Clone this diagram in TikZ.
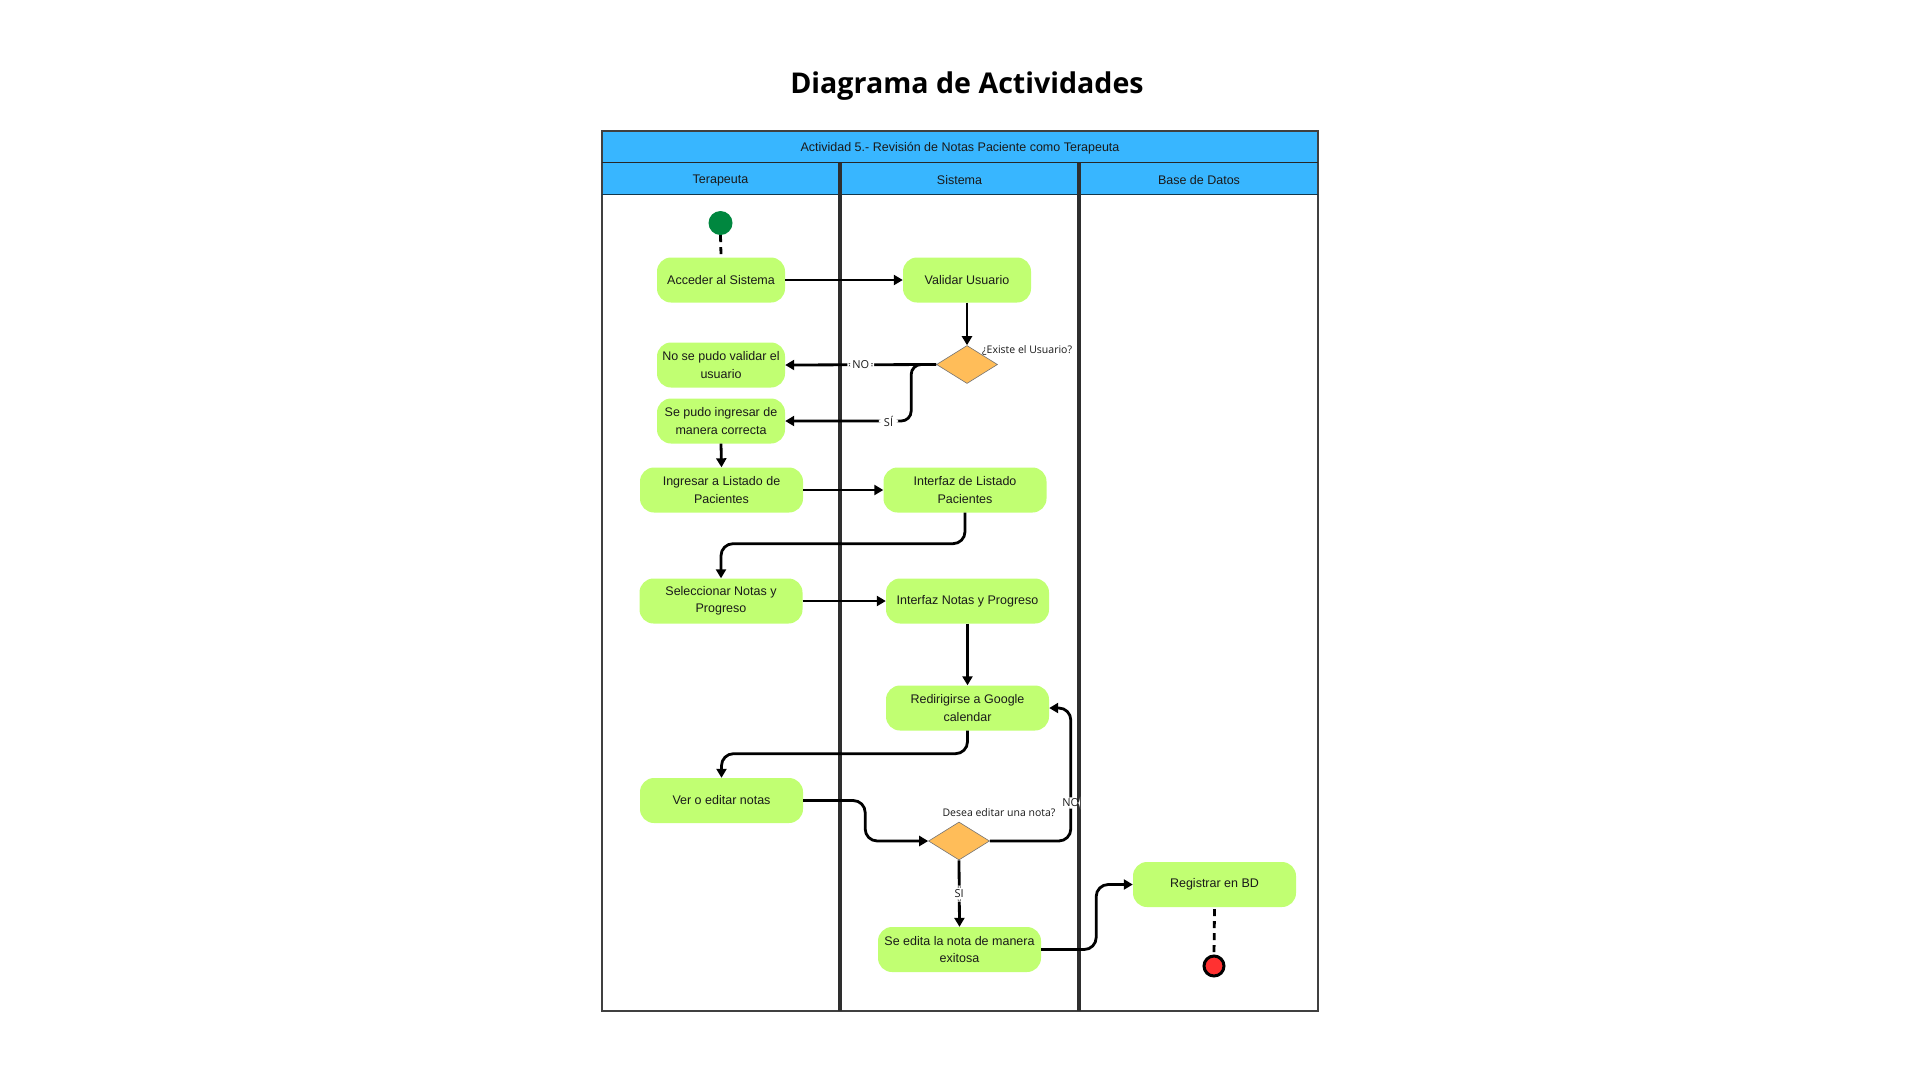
\documentclass[tikz,border=0pt]{standalone}
\usepackage{fontspec}
\setmainfont{Liberation Sans}
\newfontfamily\osans{Open Sans}
\usetikzlibrary{arrows.meta,shapes.geometric}
\definecolor{hdrblue}{HTML}{38B6FF}
\definecolor{actgreen}{HTML}{C1FF72}
\definecolor{decor}{HTML}{FFBD59}
\definecolor{startg}{HTML}{00873F}
\definecolor{endred}{HTML}{FF3131}
\definecolor{txt}{HTML}{1A1A1A}
\begin{document}
\begin{tikzpicture}[x=1pt,y=-1pt,
  act/.style={rectangle, rounded corners=14pt, fill=actgreen, minimum height=45pt, align=center, font=\fontsize{12.5}{17.5}\selectfont, text=txt, inner sep=2pt},
  actS/.style={act, minimum width=128pt},
  actL/.style={act, minimum width=163pt},
  dec/.style={diamond, fill=decor, draw=black!55, line width=0.6pt, minimum width=61pt, minimum height=38pt, inner sep=0pt},
  flow/.style={line width=2.8pt, -{Triangle[length=9pt,width=10pt]}, rounded corners=12pt},
  dashline/.style={line width=2.8pt, dash pattern=on 7pt off 5pt},
  lbl/.style={font=\osans\fontsize{11}{12}\selectfont, fill=white, inner xsep=5pt, inner ysep=1.5pt, text=txt},
  qlbl/.style={font=\osans\fontsize{10.5}{12}\selectfont, inner sep=0pt, text=txt},
  lane/.style={draw=black!75, line width=1.3pt},
  divider/.style={draw=black!82, line width=1.2pt},
  hdrtxt/.style={font=\fontsize{12.5}{15}\selectfont, text=txt}
]
\fill[white] (0,0) rectangle (1920,1080);
\useasboundingbox (0,0) rectangle (1920,1080);

% title
\node[font=\osans\bfseries\fontsize{28.6}{32}\selectfont] (title) at (967,86.5) {Diagrama de Actividades};

% pool
\fill[hdrblue] (602,131) rectangle (1318,194);
\draw[lane] (602,131) rectangle (1318,1011);
\draw[draw=black!85, line width=1.6pt] (602,162.5) -- (1318,162.5);
\draw[draw=black!70!hdrblue, line width=1.6pt] (602,194.5) -- (1318,194.5);
\foreach \xd in {840,1079} {
  \draw[divider] (\xd-1,162.5) -- (\xd-1,1011);
  \draw[divider] (\xd+1,162.5) -- (\xd+1,1011);
}
\node[hdrtxt] (pool) at (960,148) {Actividad 5.- Revisión de Notas Paciente como Terapeuta};
\node[hdrtxt] (l1) at (720.5,180.5) {Terapeuta};
\node[hdrtxt] (l2) at (959.5,180.5) {Sistema};
\node[hdrtxt] (l3) at (1199,180.5) {Base de Datos};

% nodes
\node[circle, fill=startg, minimum size=24pt, inner sep=0pt] (start) at (720.5,223) {};
\node[actS] (acc) at (721,280) {Acceder al Sistema};
\node[actS] (val) at (967,280) {Validar Usuario};
\node[dec] (d1) at (967,364.5) {};
\node[qlbl, anchor=west] (q1) at (982,351) {¿Existe el Usuario?};
\node[actS] (nopudo) at (721,365) {No se pudo validar el\\usuario};
\node[actS] (sepudo) at (721,421) {Se pudo ingresar de\\manera correcta};
\node[actL] (ingresar) at (721.5,490) {Ingresar a Listado de\\Pacientes};
\node[actL] (intlist) at (965,490) {Interfaz de Listado\\Pacientes};
\node[actL] (selec) at (721,601) {Seleccionar Notas y\\Progreso};
\node[actL] (intnotas) at (967.5,601) {Interfaz Notas y Progreso};
\node[actL] (redir) at (967.5,708) {Redirigirse a Google\\calendar};
\node[actL] (ver) at (721.5,800.5) {Ver o editar notas};
\node[dec] (d2) at (959,841) {};
\node[qlbl] (q2) at (999,813) {Desea editar una nota?};
\node[actL] (seedita) at (959.5,949.5) {Se edita la nota de manera\\exitosa};
\node[actL] (reg) at (1214.5,884.5) {Registrar en BD};
\node[circle, fill=endred, draw=black, line width=3pt, minimum size=20pt, inner sep=0pt] (fin) at (1214,966) {};

% connectors
\draw[dashline] (start.south) -- ([yshift=2pt]acc.north);
\draw[flow] (acc.east) -- (val.west);
\draw[flow] (val.south) -- (d1.north);
\draw[flow] (d1.west) -- node[lbl]{NO} (nopudo.east);
\draw[flow, rounded corners=10pt] (d1.west) -- ++(-25,0) |- node[lbl, pos=0.59]{SÍ} (sepudo.east);
\draw[flow] (sepudo.south) -- (ingresar.north);
\draw[flow] (ingresar.east) -- (intlist.west);
\draw[flow] (intlist.south) -- ++(0,31) -| (selec.north);
\draw[flow] (selec.east) -- (intnotas.west);
\draw[flow] (intnotas.south) -- (redir.north);
\draw[flow] (redir.south) -- ++(0,23) -| (ver.north);
\draw[flow] (ver.east) -- ++(62,0) |- (d2.west);
\draw[flow] (d2.east) -- ++(81,0) |- node[lbl, inner xsep=1pt, pos=0.143]{NO} (redir.east);
\draw[flow] (d2.south) -- node[lbl, inner xsep=2pt, inner ysep=4pt]{SI} (seedita.north);
\draw[flow] (seedita.east) -- ++(55,0) |- (reg.west);
\draw[dashline] ([yshift=-2pt]reg.south) -- (fin.north);
\end{tikzpicture}
\end{document}
